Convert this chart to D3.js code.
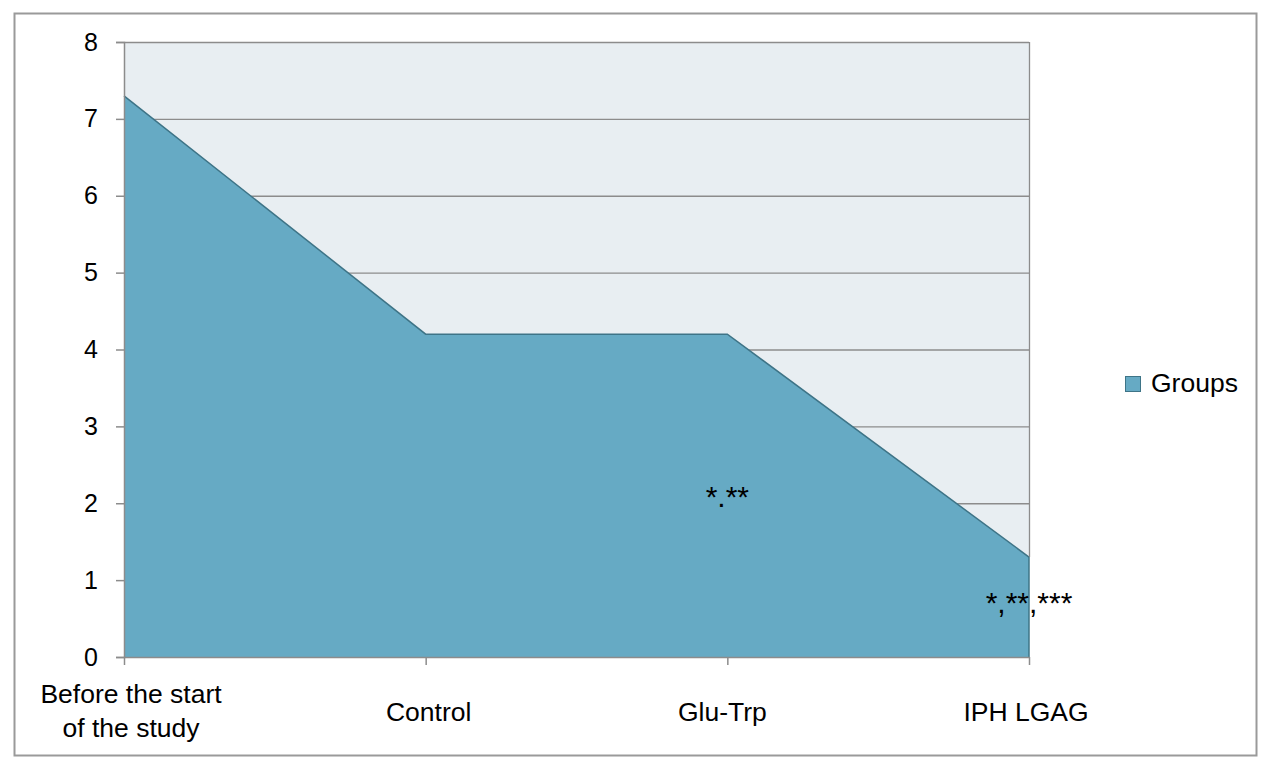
<!DOCTYPE html>
<html><head><meta charset="utf-8">
<script src="https://cdn.jsdelivr.net/npm/d3@7"></script>
<style>body{margin:0;background:#fff;font-family:"Liberation Sans",Arial,sans-serif;}</style>
</head><body>
<svg id="c" width="1270" height="766"></svg>
<script>
const categories = ["Before the start of the study", "Control", "Glu-Trp", "IPH LGAG"];
const categoryLines = [["Before the start", "of the study"], ["Control"], ["Glu-Trp"], ["IPH LGAG"]];
const values = [7.3, 4.2, 4.2, 1.3];
const yTicks = [0, 1, 2, 3, 4, 5, 6, 7, 8];
const annotationCats = ["Glu-Trp", "IPH LGAG"];
const annotationY = [2.0, 0.62];
const annotationText = ["*.**", "*,**,***"];
const seriesName = "Groups";

const svg = d3.select("#c");
const FF = "Liberation Sans, Arial, sans-serif";
const L = 124, R = 1029, T = 42, B = 657;
const x = d3.scalePoint().domain(categories).range([L, R]).padding(0);
const y = d3.scaleLinear().domain([0, 8]).range([B, T]);

svg.append("rect").attr("x", 14.5).attr("y", 13.5).attr("width", 1242).attr("height", 742)
  .attr("fill", "#fff").attr("stroke", "#9a9a9a").attr("stroke-width", 2);

svg.append("rect").attr("x", L).attr("y", T).attr("width", R - L).attr("height", B - T)
  .attr("fill", "#e8eef2");

// grid
svg.append("g").selectAll("line").data(yTicks.filter(d => d > 0)).join("line")
  .attr("x1", L).attr("x2", R).attr("y1", d => y(d) + 0.5).attr("y2", d => y(d) + 0.5)
  .attr("stroke", "#8c8c8c").attr("stroke-width", 1.3);

// area
const data = categories.map((c, i) => ({c, v: values[i]}));
svg.append("path").datum(data)
  .attr("d", d3.area().x(d => x(d.c)).y0(y(0)).y1(d => y(d.v)))
  .attr("fill", "#66aac4");
svg.append("path").datum(data)
  .attr("d", d3.line().x(d => x(d.c)).y(d => y(d.v)))
  .attr("fill", "none").attr("stroke", "#3e7487").attr("stroke-width", 1.5);
svg.append("line").attr("x1", R).attr("x2", R).attr("y1", y(values[3])).attr("y2", B)
  .attr("stroke", "#3e7487").attr("stroke-width", 1.5);

// right border of plot (above area)
svg.append("line").attr("x1", R + 0.5).attr("x2", R + 0.5).attr("y1", T).attr("y2", y(values[3]))
  .attr("stroke", "#8c8c8c").attr("stroke-width", 1.3);

// axes
const yAxis = svg.append("g").attr("transform", `translate(${L},0)`)
  .call(d3.axisLeft(y).tickValues(yTicks).tickSize(8).tickPadding(18).tickFormat(d3.format("d")));
yAxis.select(".domain").attr("stroke", "#8c8c8c").attr("stroke-width", 1.5);
yAxis.selectAll(".tick line").attr("stroke", "#8c8c8c").attr("stroke-width", 1.5);
yAxis.selectAll(".tick text").attr("font-size", 25).attr("fill", "#000").attr("font-family", FF);

const xAxis = svg.append("g").attr("transform", `translate(0,${B})`)
  .call(d3.axisBottom(x).tickSize(8).tickFormat(""));
xAxis.select(".domain").attr("stroke", "#8c8c8c").attr("stroke-width", 1.5).attr("d", `M${L},0.5H${R}`);
xAxis.selectAll(".tick line").attr("stroke", "#8c8c8c").attr("stroke-width", 1.5);

const xOffsets = [7, 3, -5, -3];
const xl = svg.append("g").selectAll("text").data(categories).join("text")
  .attr("text-anchor", "middle").attr("font-size", 26.5).attr("fill", "#000").attr("font-family", FF)
  .attr("transform", (d, i) => `translate(${x(d) + xOffsets[i]},0)`);
xl.each(function(d, i) {
  const lines = categoryLines[i];
  const base = lines.length === 1 ? 721 : 703;
  d3.select(this).selectAll("tspan").data(lines).join("tspan")
    .attr("x", 0).attr("y", (t, j) => base + j * 34).text(t => t);
});

// annotations
svg.append("g").selectAll("text").data(annotationText).join("text")
  .attr("x", (d, i) => x(annotationCats[i])).attr("y", (d, i) => y(annotationY[i]) + 4)
  .attr("text-anchor", "middle").attr("font-size", 30).attr("fill", "#000").attr("font-family", FF)
  .text(d => d);

// legend
svg.append("rect").attr("x", 1125.5).attr("y", 376.5).attr("width", 15).attr("height", 15)
  .attr("fill", "#66aac4").attr("stroke", "#3e7487").attr("stroke-width", 1);
svg.append("text").attr("x", 1151).attr("y", 392).attr("font-size", 26.5).attr("fill", "#000")
  .attr("font-family", FF).text(seriesName);
</script>
</body></html>
